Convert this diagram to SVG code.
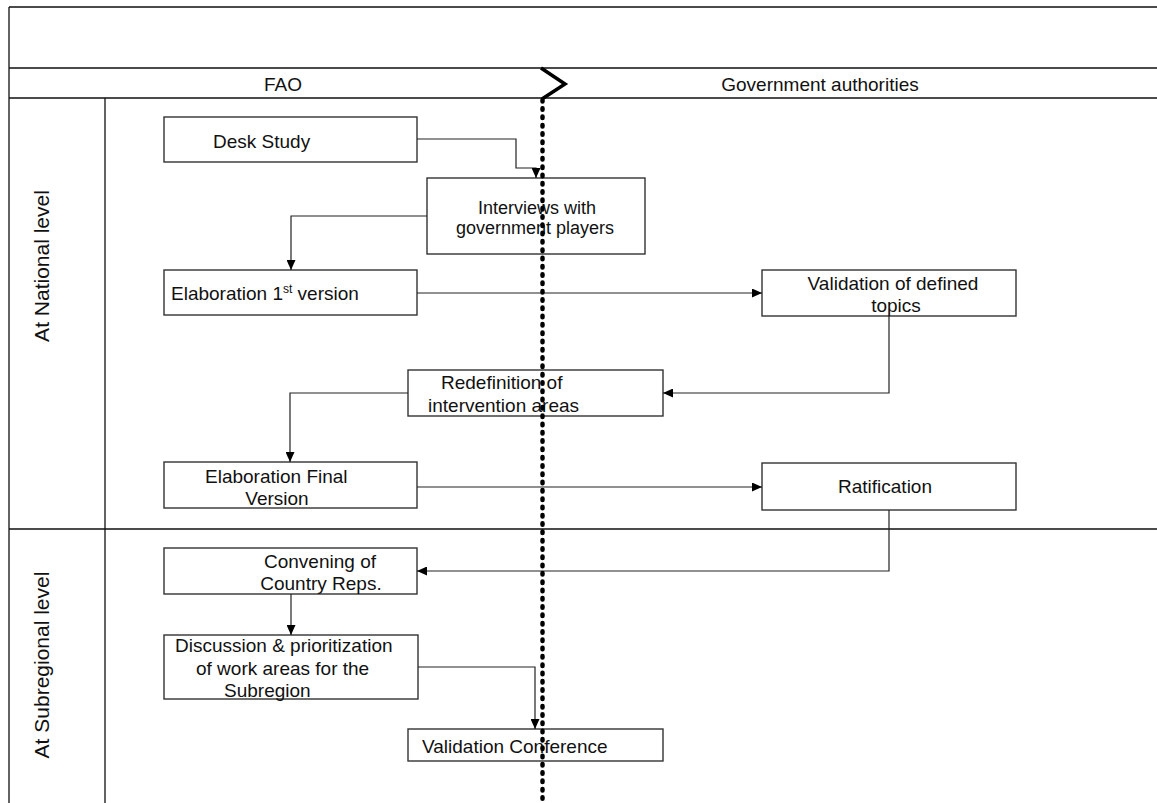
<svg xmlns="http://www.w3.org/2000/svg" width="1157" height="803" viewBox="0 0 1157 803">
<style>
text{font-family:"Liberation Sans",Arial,sans-serif;font-size:19px;fill:#111}
.lane{stroke:#111;stroke-width:1.3;fill:none}
.box{fill:#fff;stroke:#333;stroke-width:1.4}
.con{fill:none;stroke:#222;stroke-width:1.2}
.mid{text-anchor:middle}
.rot{font-size:21px;text-anchor:middle}
</style>
<defs>
<marker id="arr" markerUnits="userSpaceOnUse" markerWidth="10" markerHeight="9" refX="10" refY="4.5" orient="auto">
<path d="M0,0 L10,4.5 L0,9 z" fill="#000"/>
</marker>
</defs>
<rect width="1157" height="803" fill="#fff"/>
<g id="lanes">
<path class="lane" d="M9,7 H1157 M9,68 H1157 M9,98 H1157 M9,529 H1157 M9,7 V803 M105,98 V803"/>
<text x="283" y="91" class="mid">FAO</text>
<text x="820" y="91" class="mid">Government authorities</text>
<text class="rot" transform="translate(49,266) rotate(-90)">At National level</text>
<text class="rot" transform="translate(49,665) rotate(-90)">At Subregional level</text>
</g>
<g id="desk">
<rect class="box" x="164" y="117" width="253" height="45"/>
<text x="213" y="148">Desk Study</text>
</g>
<g id="interviews">
<rect class="box" x="427" y="178" width="218" height="76"/>
<text x="537" y="214" class="mid" font-size="18" style="font-size:18px">Interviews with</text>
<text x="535" y="234" class="mid" style="font-size:18px">government players</text>
</g>
<g id="elab1">
<rect class="box" x="164" y="270" width="253" height="45"/>
<text x="171" y="300">Elaboration 1<tspan dy="-7" style="font-size:12px">st</tspan><tspan dy="7"> version</tspan></text>
</g>
<g id="validation">
<rect class="box" x="762" y="270" width="254" height="46"/>
<text x="893" y="290" class="mid">Validation of defined</text>
<text x="896" y="312" class="mid">topics</text>
</g>
<g id="redefinition">
<rect class="box" x="408" y="370" width="255" height="46"/>
<text x="441" y="389">Redefinition of</text>
<text x="428" y="412">intervention areas</text>
</g>
<g id="elabfinal">
<rect class="box" x="164" y="462" width="253" height="46"/>
<text x="205" y="483">Elaboration Final</text>
<text x="277" y="505" class="mid">Version</text>
</g>
<g id="ratification">
<rect class="box" x="762" y="463" width="254" height="47"/>
<text x="885" y="493" class="mid">Ratification</text>
</g>
<g id="convening">
<rect class="box" x="164" y="548" width="253" height="46"/>
<text x="320" y="568" class="mid">Convening of</text>
<text x="321" y="590" class="mid">Country Reps.</text>
</g>
<g id="discussion">
<rect class="box" x="164" y="635" width="254" height="64"/>
<text x="175" y="652">Discussion &amp; prioritization</text>
<text x="196" y="675">of work areas for the</text>
<text x="224" y="697">Subregion</text>
</g>
<g id="valconf">
<rect class="box" x="408" y="729" width="255" height="32"/>
<text x="422" y="753">Validation Conference</text>
</g>
<g id="connectors">
<path class="con" marker-end="url(#arr)" d="M417,139 H516 V168 H536 V178"/>
<path class="con" marker-end="url(#arr)" d="M427,216 H291 V270"/>
<path class="con" marker-end="url(#arr)" d="M417,293 H762"/>
<path class="con" marker-end="url(#arr)" d="M889,316 V393 H663"/>
<path class="con" marker-end="url(#arr)" d="M408,393 H290 V462"/>
<path class="con" marker-end="url(#arr)" d="M417,487 H762"/>
<path class="con" marker-end="url(#arr)" d="M889,510 V571 H417"/>
<path class="con" marker-end="url(#arr)" d="M291,594 V635"/>
<path class="con" marker-end="url(#arr)" d="M418,667 H535 V729"/>
</g>
<g id="divider">
<polyline points="541,68 565,84 542,99" fill="none" stroke="#000" stroke-width="3.5" stroke-linejoin="miter"/>
<line x1="542.5" y1="100" x2="542.5" y2="799" stroke="#000" stroke-width="4.5" stroke-linecap="round" stroke-dasharray="1.5 6.8"/>
</g>
</svg>
